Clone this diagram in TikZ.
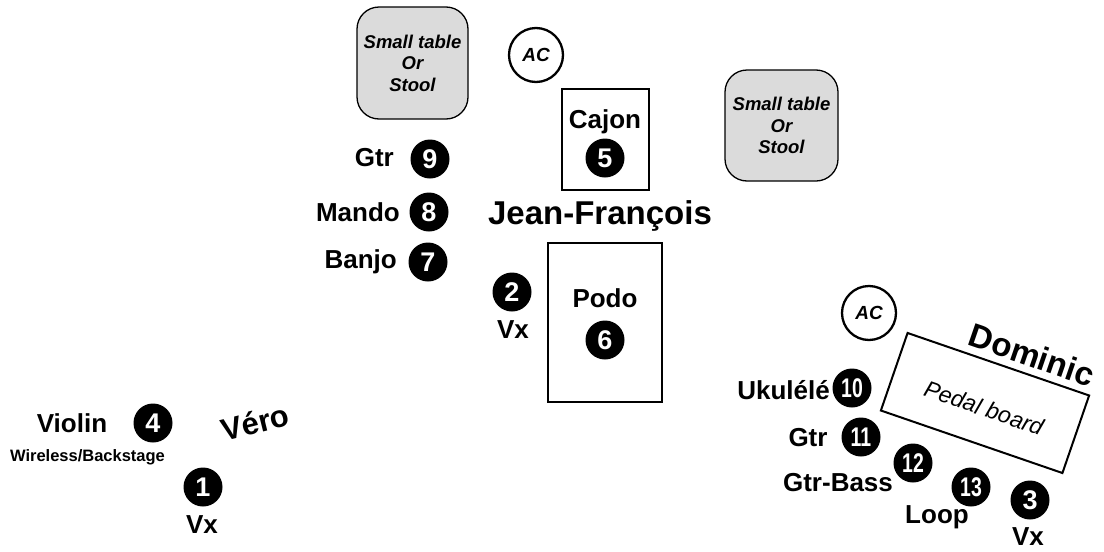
\documentclass[tikz,border=0pt]{standalone}
\usepackage{fontspec}
\setmainfont{Liberation Sans}
\newcommand{\fs}[1]{\fontsize{#1}{#1}\selectfont}
\begin{document}
\begin{tikzpicture}[x=1pt,y=-1pt,
  num/.style={circle, fill=black, text=white, font=\bfseries\fs{27}, minimum size=39pt, inner sep=0pt},
  lbl/.style={font=\bfseries\fs{26}, inner sep=0pt},
  big/.style={font=\bfseries\fs{33}, inner sep=0pt},
  stool/.style={draw=black, line width=1.3pt, fill=black!14, rounded corners=22pt, align=center, font=\bfseries\itshape\fs{18.5}, inner sep=0pt},
  ac/.style={circle, draw=black, line width=2.3pt, minimum size=54pt, inner sep=0pt, font=\bfseries\itshape\fs{19}},
  box/.style={draw=black, line width=2pt, inner sep=0pt}]
\useasboundingbox (0,0) rectangle (1104,552);
% furniture
\node[stool, minimum width=111pt, minimum height=112pt] (t1) at (412.5,63) {Small table\\[3pt]Or\\[3pt]Stool};
\node[stool, minimum width=113pt, minimum height=111pt] (t2) at (781.5,125.5) {Small table\\[3pt]Or\\[3pt]Stool};
\node[ac] (ac1) at (536,55) {AC};
\node[ac] (ac2) at (869,313) {AC};
% Jean-François
\node[box, minimum width=87pt, minimum height=101pt] (cajonbox) at (605.5,139.5) {};
\node[lbl] (cajon) at (605,122) {Cajon};
\node[num] (n5) at (605,158) {5};
\node[big] (jf) at (600,216) {Jean-François};
\node[box, minimum width=114pt, minimum height=159pt] (podobox) at (605,322.5) {};
\node[lbl] (podo) at (605,298) {Podo};
\node[num] (n6) at (605,340) {6};
\node[num] (n2) at (512,292) {2};
\node[lbl] (vx2) at (513,330) {Vx};
\node[num] (n9) at (430,159) {9};
\node[lbl, anchor=east] (gtr9) at (394,158) {Gtr};
\node[num] (n8) at (429,212) {8};
\node[lbl, anchor=east] (mando) at (400,212) {Mando};
\node[num] (n7) at (428,262) {7};
\node[lbl, anchor=east] (banjo) at (397,262) {Banjo};
% Véro
\node[lbl] (violin) at (72,423) {Violin};
\node[num] (n4) at (153,423) {4};
\node[font=\bfseries\fs{16.5}, inner sep=0pt] (wl) at (87.5,457) {Wireless/Backstage};
\node[big, font=\bfseries\fs{31}, rotate=14] (vero) at (255,422) {Véro};
\node[num] (n1) at (203,487) {1};
\node[lbl] (vx1) at (202,525) {Vx};
% Dominic
\node[draw=black, line width=2pt, minimum width=192pt, minimum height=82pt, rotate=-19] (pedal) at (985,403) {};
\node[font=\itshape\fs{23}, rotate=-19, inner sep=0pt] (pedaltxt) at (984,408) {Pedal board};
\node[big, rotate=-19] (dominic) at (1032,355) {Dominic};
\node[num] (n10) at (852,388) {\scalebox{0.72}[1]{10}};
\node[lbl, anchor=east] (uku) at (830,390) {Ukulélé};
\node[num] (n11) at (861,437) {\scalebox{0.72}[1]{11}};
\node[lbl] (gtr11) at (808,438) {Gtr};
\node[num] (n12) at (913,463) {\scalebox{0.72}[1]{12}};
\node[lbl] (gb) at (838,483) {Gtr-Bass};
\node[num] (n13) at (971,487) {\scalebox{0.72}[1]{13}};
\node[lbl] (loop) at (937,517) {Loop};
\node[num] (n3) at (1030,500) {3};
\node[lbl] (vx3) at (1028,537) {Vx};
\end{tikzpicture}
\end{document}
